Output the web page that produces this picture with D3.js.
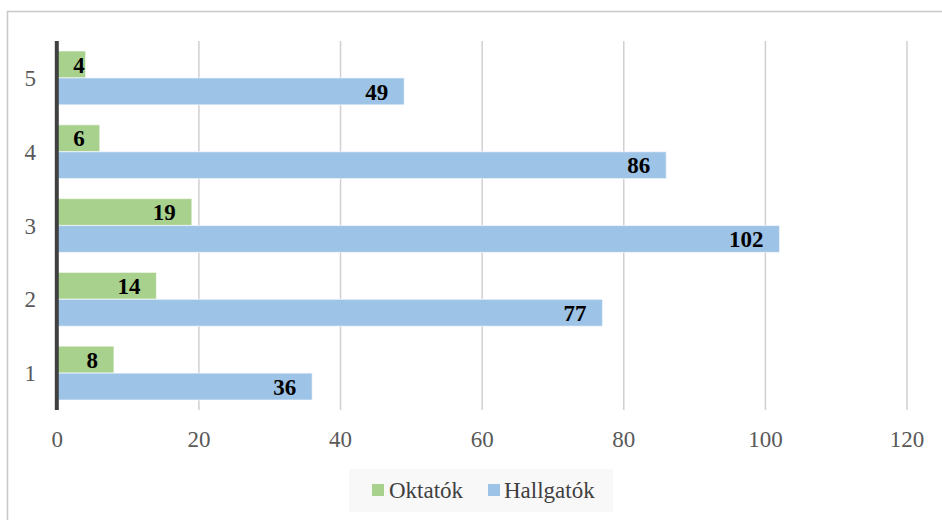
<!DOCTYPE html>
<html>
<head>
<meta charset="utf-8">
<script src="https://cdn.jsdelivr.net/npm/d3@7"></script>
<style>
  html, body { margin: 0; padding: 0; background: #fff; }
  svg { display: block; }
  text { font-family: "Liberation Serif", "DejaVu Serif", serif; }
</style>
</head>
<body>
<svg id="chart" width="942" height="520"></svg>
<script>
// Categories, listed top to bottom as drawn
const categories = ["5", "4", "3", "2", "1"];
const seriesNames = ["Oktatók", "Hallgatók"];
const oktatok = [4, 6, 19, 14, 8];
const hallgatok = [49, 86, 102, 77, 36];
const xTicks = [0, 20, 40, 60, 80, 100, 120];
const colors = { "Oktatók": "#a9d18e", "Hallgatók": "#9dc3e6" };

const svg = d3.select("#chart");

// chart frame
svg.append("rect")
  .attr("x", 7.5).attr("y", 11.5)
  .attr("width", 960).attr("height", 540)
  .attr("fill", "#fff").attr("stroke", "#c8c8c8").attr("stroke-width", 1.5);

const plotTop = 41, plotBottom = 410;
const x = d3.scaleLinear().domain([0, 120]).range([57.3, 907]);
const y0 = d3.scaleBand().domain(categories).range([plotTop, plotBottom])
  .paddingInner(0.27).paddingOuter(0.135);
const y1 = d3.scaleBand().domain(seriesNames).range([0, y0.bandwidth()]);

// vertical gridlines
svg.append("g").selectAll("line").data(xTicks.filter(t => t > 0)).join("line")
  .attr("x1", d => x(d)).attr("x2", d => x(d))
  .attr("y1", plotTop).attr("y2", plotBottom)
  .attr("stroke", "#d0d0d0").attr("stroke-width", 1.5);

// x tick labels
svg.append("g").selectAll("text").data(xTicks).join("text")
  .attr("x", d => x(d)).attr("y", 447)
  .attr("text-anchor", "middle")
  .attr("font-size", 23).attr("fill", "#595959")
  .text(d => d);

// category labels
svg.append("g").selectAll("text").data(categories).join("text")
  .attr("x", 36).attr("y", d => y0(d) + y0.bandwidth() / 2)
  .attr("dy", "0.35em")
  .attr("text-anchor", "end")
  .attr("font-size", 23).attr("fill", "#595959")
  .text(d => d);

const rows = categories.map((c, i) => ({
  cat: c,
  values: [
    { series: "Oktatók", value: oktatok[i] },
    { series: "Hallgatók", value: hallgatok[i] }
  ]
}));

const groups = svg.append("g").selectAll("g").data(rows).join("g")
  .attr("transform", d => `translate(0,${y0(d.cat)})`);

groups.selectAll("rect").data(d => d.values).join("rect")
  .attr("x", x(0)).attr("y", d => y1(d.series))
  .attr("width", d => x(d.value) - x(0))
  .attr("height", y1.bandwidth())
  .attr("fill", d => colors[d.series])
  .attr("stroke", "#ffffff").attr("stroke-opacity", 0.55).attr("stroke-width", 1.2);

// value labels, placed inside the end of each bar
const labels = groups.selectAll("text").data(d => d.values).join("text")
  .attr("y", d => y1(d.series) + y1.bandwidth() / 2)
  .attr("dy", "0.36em")
  .attr("font-size", 23).attr("font-weight", "bold")
  .attr("fill", "#000")
  .text(d => d.value);

labels.each(function(d) {
  const w = this.getComputedTextLength();
  const pad = 16;
  let end = x(d.value) - pad;
  if (end - w < x(0) + pad) end = x(0) + pad + w;
  d3.select(this).attr("x", end).attr("text-anchor", "end");
});

// value axis line
svg.append("line")
  .attr("x1", 56.8).attr("x2", 56.8)
  .attr("y1", plotTop).attr("y2", plotBottom)
  .attr("stroke", "#404040").attr("stroke-width", 4);

// legend
const legend = svg.append("g");
legend.append("rect")
  .attr("x", 349).attr("y", 469).attr("width", 264).attr("height", 43)
  .attr("fill", "#f8f8f8");
const legendItems = [
  { name: "Oktatók", sx: 372, tx: 389 },
  { name: "Hallgatók", sx: 488, tx: 504 }
];
legendItems.forEach(it => {
  legend.append("rect")
    .attr("x", it.sx).attr("y", 484).attr("width", 12).attr("height", 12)
    .attr("fill", colors[it.name]);
  legend.append("text")
    .attr("x", it.tx).attr("y", 498)
    .attr("font-size", 23).attr("fill", "#404040")
    .text(it.name);
});
</script>
</body>
</html>
